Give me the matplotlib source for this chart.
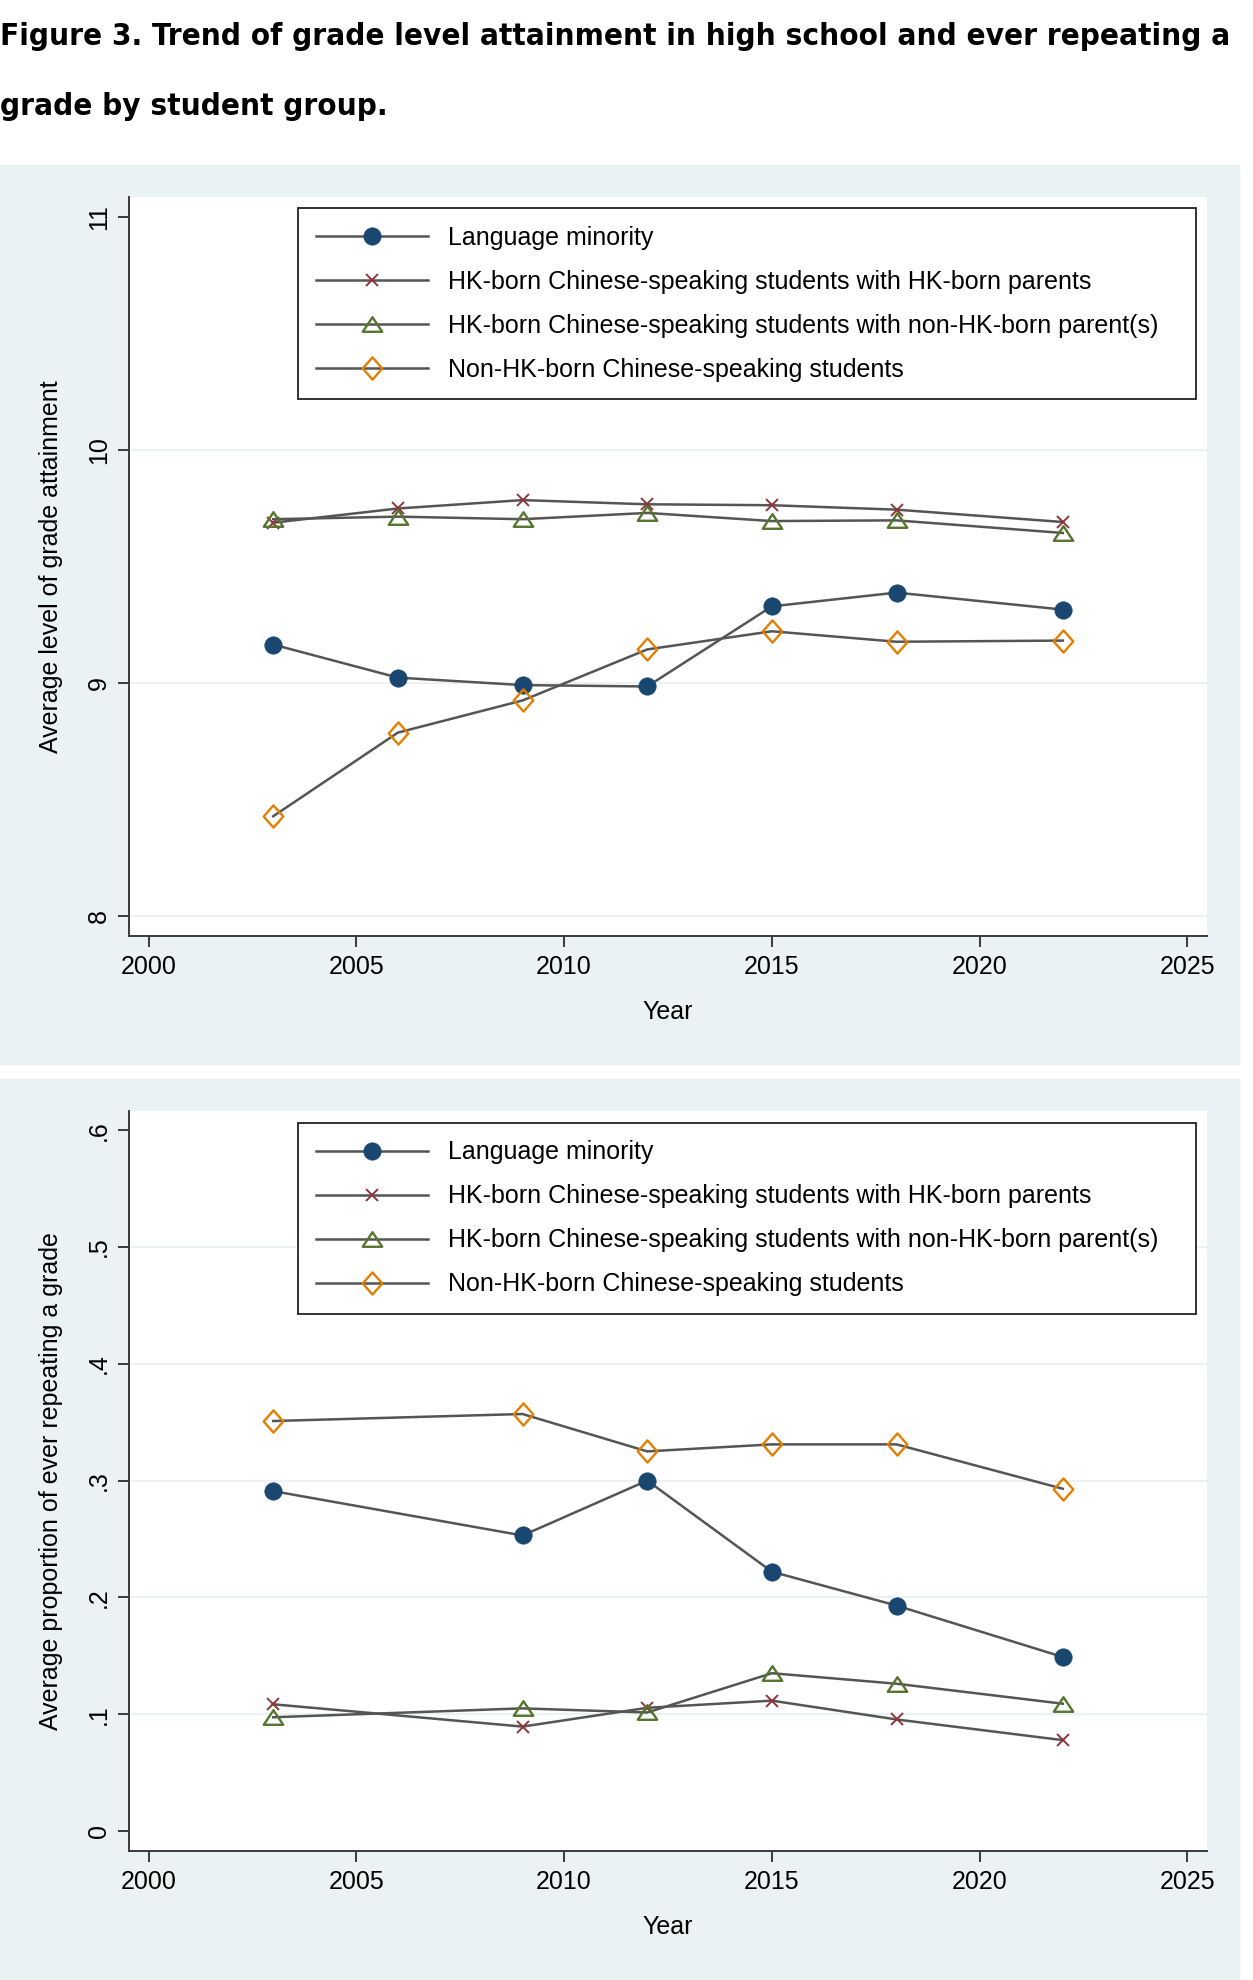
import matplotlib
matplotlib.use("Agg")
import matplotlib.pyplot as plt
from matplotlib.patches import Rectangle
from matplotlib.path import Path

plt.rcParams['font.family'] = ['Liberation Sans', 'DejaVu Sans']

# ---- data ----
years_top = [2003, 2006, 2009, 2012, 2015, 2018, 2022]
lm_top = [9.165, 9.023, 8.991, 8.985, 9.329, 9.388, 9.315]
hk_hk_top = [9.688, 9.749, 9.785, 9.767, 9.763, 9.744, 9.691]
hk_non_top = [9.703, 9.714, 9.703, 9.730, 9.695, 9.698, 9.644]
nonhk_top = [8.428, 8.787, 8.925, 9.144, 9.222, 9.177, 9.182]

years_bot = [2003, 2009, 2012, 2015, 2018, 2022]
lm_bot = [0.291, 0.253, 0.300, 0.222, 0.193, 0.149]
hk_hk_bot = [0.1085, 0.0894, 0.1055, 0.1116, 0.0955, 0.0778]
hk_non_bot = [0.0974, 0.105, 0.1015, 0.1351, 0.1261, 0.109]
nonhk_bot = [0.351, 0.357, 0.325, 0.331, 0.331, 0.293]

labels = ["Language minority",
          "HK-born Chinese-speaking students with HK-born parents",
          "HK-born Chinese-speaking students with non-HK-born parent(s)",
          "Non-HK-born Chinese-speaking students"]

xticks = [2000, 2005, 2010, 2015, 2020, 2025]
yticks_top = [8, 9, 10, 11]
yticks_bot = [0, 0.1, 0.2, 0.3, 0.4, 0.5, 0.6]
ytick_labels_bot = ["0", ".1", ".2", ".3", ".4", ".5", ".6"]

title1 = "Figure 3. Trend of grade level attainment in high school and ever repeating a"
title2 = "grade by student group."

# ---- styles ----
W, H = 1253, 1980
panel_col = "#eaf2f3"
line_col = "#555555"
axis_col = "#3a3a3a"
navy = "#1a476f"
maroon = "#90353b"
green = "#55752f"
orange = "#e37e00"
FS = 18

tri = Path([(0, 0.75), (-1, -0.75), (1, -0.75), (0, 0.75)],
           [Path.MOVETO, Path.LINETO, Path.LINETO, Path.CLOSEPOLY])
dia = Path([(0, 1), (0.88, 0), (0, -1), (-0.88, 0), (0, 1)],
           [Path.MOVETO, Path.LINETO, Path.LINETO, Path.LINETO, Path.CLOSEPOLY])

styles = [
    dict(marker='o', ms=12.5, mfc=navy, mec=navy, mew=0.5),
    dict(marker='x', ms=8.5, mfc=maroon, mec=maroon, mew=1.4),
    dict(marker=tri, ms=14, mfc='none', mec=green, mew=1.7),
    dict(marker=dia, ms=16, mfc='none', mec=orange, mew=1.7),
]

fig = plt.figure(figsize=(W / 100, H / 100), dpi=100)
fig.patch.set_facecolor("white")

# panel backgrounds
for top_px, bot_px in [(165, 1064), (1079, 1980)]:
    fig.add_artist(Rectangle((0, 1 - bot_px / H), 1239 / W, (bot_px - top_px) / H,
                             transform=fig.transFigure, color=panel_col, zorder=0))

fig.text(0, 1 - 45 / H, title1, fontsize=22.5, fontweight='bold', va='baseline',
         family=['DejaVu Sans Condensed', 'DejaVu Sans'], stretch='condensed')
fig.text(0, 1 - 115 / H, title2, fontsize=22.5, fontweight='bold', va='baseline',
         family=['DejaVu Sans Condensed', 'DejaVu Sans'], stretch='condensed')


def make_axes(top_px, bot_px):
    ax = fig.add_axes([129 / W, 1 - bot_px / H, (1207 - 129) / W, (bot_px - top_px) / H])
    ax.set_facecolor("white")
    ax.set_zorder(2)
    for s in ['top', 'right']:
        ax.spines[s].set_visible(False)
    for s in ['left', 'bottom']:
        ax.spines[s].set_color(axis_col)
        ax.spines[s].set_linewidth(1.4)
    ax.tick_params(axis='both', direction='out', length=8, width=1.4, color=axis_col,
                   labelsize=FS, labelcolor='black')
    ax.tick_params(axis='x', pad=5.5)
    ax.tick_params(axis='y', pad=5, labelrotation=90)
    ax.set_xlim(1999.53, 2025.47)
    ax.set_xticks(xticks)
    ax.set_xlabel("Year", fontsize=FS)
    ax.xaxis.set_label_coords(0.5, -0.086)
    return ax


def draw(ax, years, series, grid_vals, ylabel, leg_top):
    for gv in grid_vals:
        ax.axhline(gv, color=panel_col, lw=1.5, zorder=0.5)
    for vals, st, lab in zip(series, styles, labels):
        ax.plot(years, vals, color=line_col, lw=1.8, label=lab, zorder=3, **st)
    ax.set_ylabel(ylabel, fontsize=FS)
    ax.yaxis.set_label_coords(-0.061, 0.5)
    plt.setp(ax.get_yticklabels(), va='center', ha='right')
    leg = ax.legend(loc='upper left', bbox_to_anchor=(0.1568, 0, 0.833, leg_top),
                    mode='expand', borderaxespad=0, fontsize=FS, frameon=True,
                    fancybox=False, edgecolor='#222222', framealpha=1,
                    handlelength=4.5, handletextpad=0.8, labelspacing=0.8,
                    borderpad=0.7, numpoints=1)
    leg.get_frame().set_linewidth(1.3)
    leg.set_zorder(5)


ax1 = make_axes(197, 936)
ax1.set_ylim(7.914, 11.086)
ax1.set_yticks(yticks_top)
ax1.set_yticklabels([str(v) for v in yticks_top])
draw(ax1, years_top, [lm_top, hk_hk_top, hk_non_top, nonhk_top], [8, 9, 10],
     "Average level of grade attainment", 0.9851)

ax2 = make_axes(1111, 1851)
ax2.set_ylim(-0.0171, 0.6164)
ax2.set_yticks(yticks_bot)
ax2.set_yticklabels(ytick_labels_bot)
draw(ax2, years_bot, [lm_bot, hk_hk_bot, hk_non_bot, nonhk_bot], [0.1, 0.2, 0.3, 0.4, 0.5],
     "Average proportion of ever repeating a grade", 0.9838)

fig.savefig("out.png", dpi=100)
